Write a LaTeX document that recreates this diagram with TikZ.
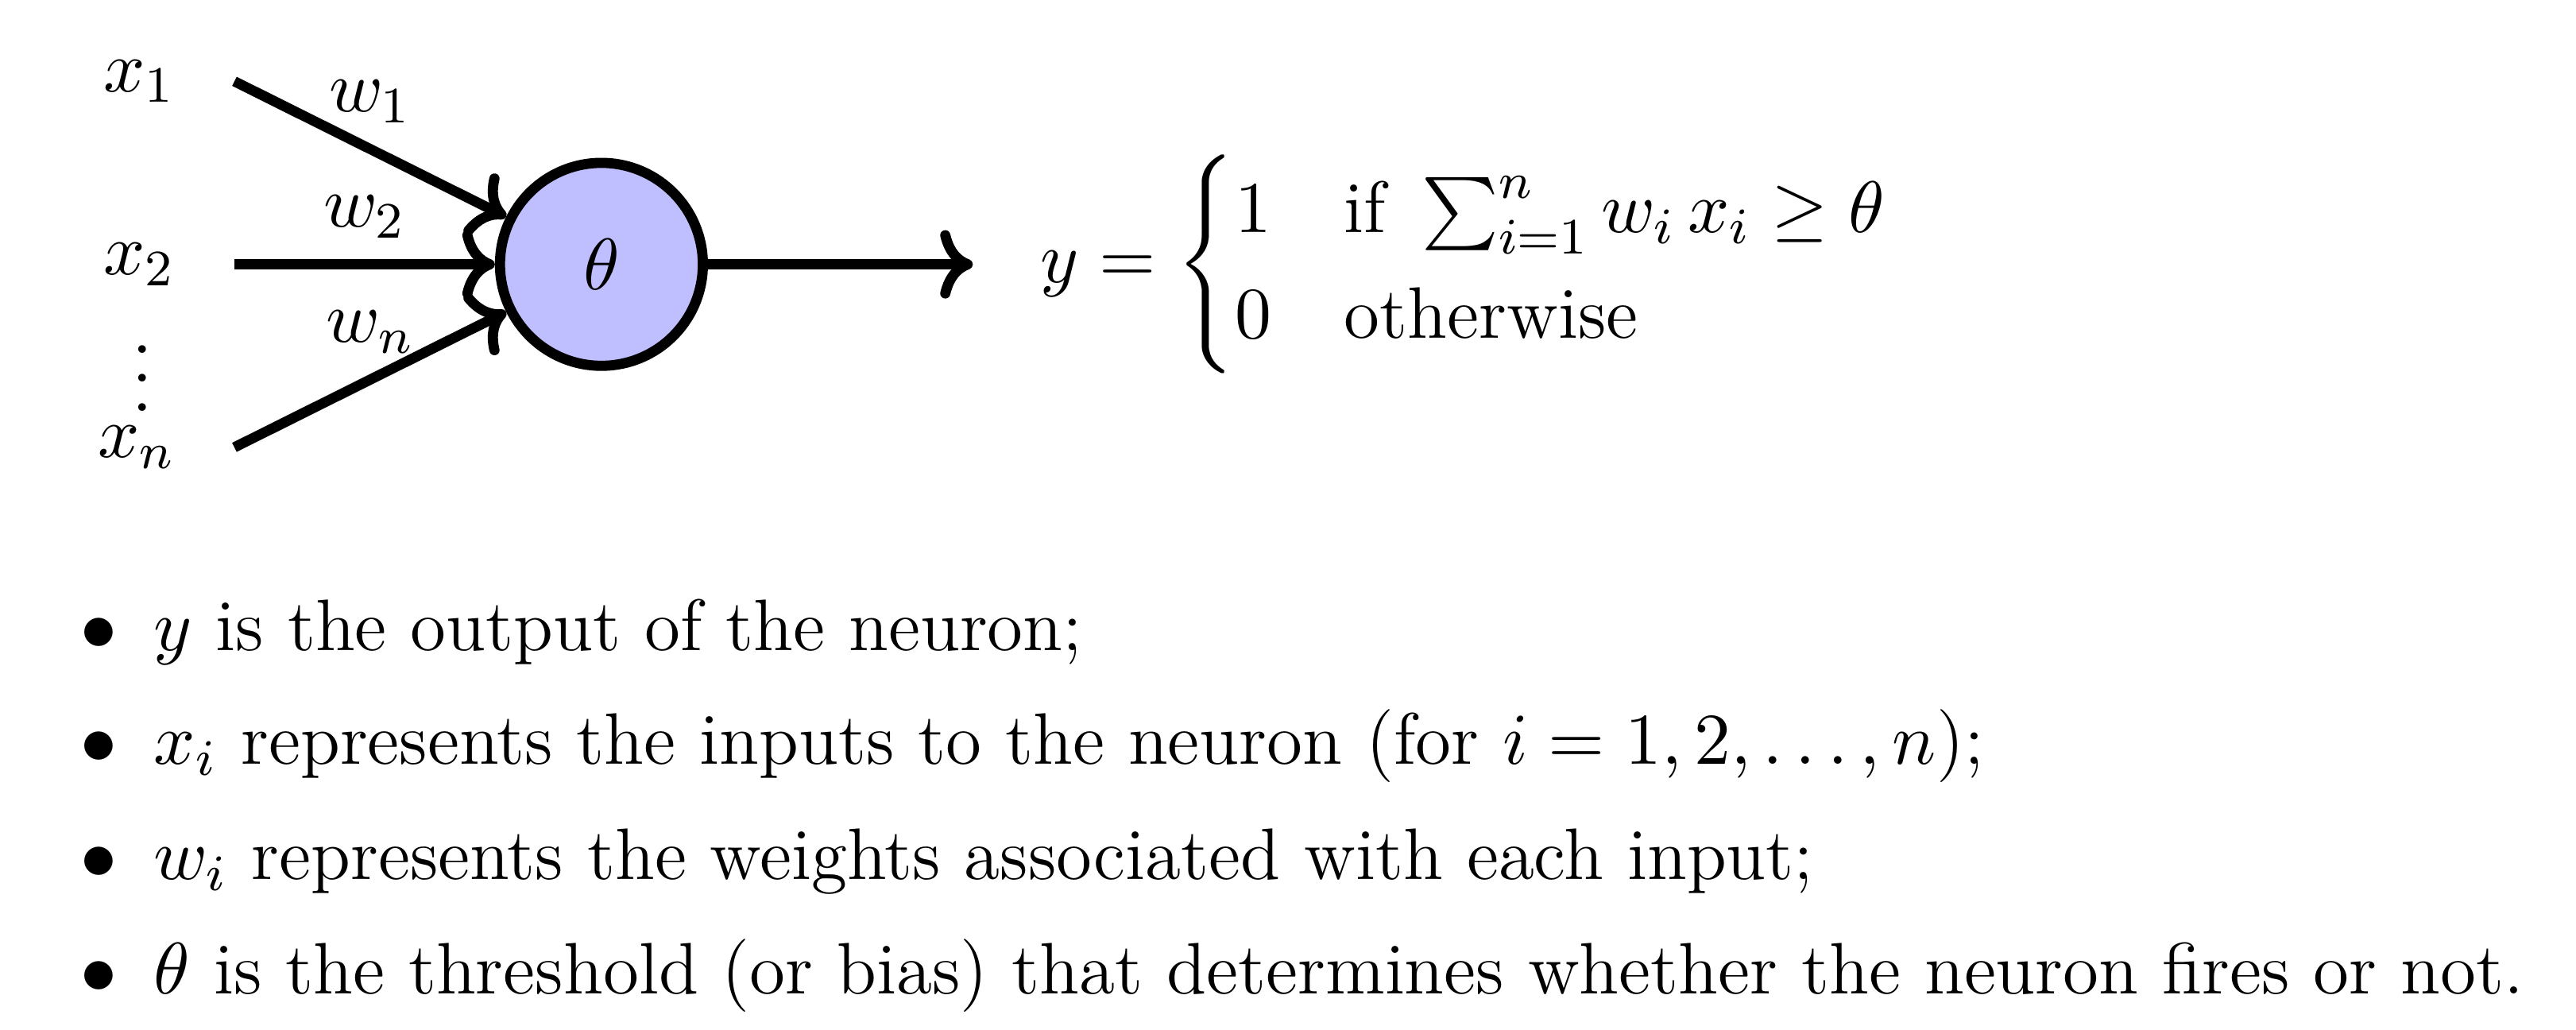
\RequirePackage{fix-cm}
\documentclass[tikz,border=0pt]{standalone}
\usepackage{amsmath}
\usepackage{amssymb}
\usepackage{xcolor}
\usepackage{tikz}
\usetikzlibrary{arrows.meta,positioning}

\begin{document}
\begin{tikzpicture}[font=\fontsize{11.45}{13.8}\selectfont,
    neuron/.style={circle, draw, ultra thick, fill=blue!25, minimum size=1.12cm, inner sep=0pt},
    wire/.style={->, ultra thick},
    itm/.style={anchor=base west, inner sep=0pt}]
  \useasboundingbox (0,0) rectangle (14.22,5.684);

  % Neuron and inputs
  \node[neuron] (theta) at (3.32,4.225) {$\theta$};
  \coordinate (in1) at (1.294,5.235);
  \coordinate (in2) at (1.294,4.225);
  \coordinate (inn) at (1.294,3.215);
  \coordinate (out) at (5.37,4.225);

  \node[left=2mm of in1] (lx1) {$x_1$};
  \node[left=2mm of in2] (lx2) {$x_2$};
  \node[left=2mm of inn] (lxn) {$x_n$};
  \node[font=\fontsize{10}{12}\selectfont, scale=1.145] (vd) at (0.785,3.717) {$\vdots$};

  \draw[wire] (in1) -- node[above] (w1) {$w_1$} (theta);
  \draw[wire] (in2) -- node[above] (w2) {$w_2$} (theta);
  \draw[wire] (inn) -- node[above] (wn) {$w_n$} (theta);
  \draw[wire] (theta) -- (out);

  % Output rule
  \node[right=2.5mm of out] (rule) {\delimiterfactor=1000 \delimitershortfall=0pt
    $y = \begin{cases}
      1 & \text{if } \sum_{i=1}^{n} w_i \, x_i \geq \theta \\
      0 & \text{otherwise}
    \end{cases}$};

  % Notes
  \node[itm] (b1) at (0.44,2.092) {$\bullet$\hspace{0.5em}$y$ is the output of the neuron;};
  \node[itm] (b2) at (0.44,1.466) {$\bullet$\hspace{0.5em}$x_i$ represents the inputs to the neuron (for $i = 1, 2, \ldots, n$);};
  \node[itm] (b3) at (0.44,0.830) {$\bullet$\hspace{0.5em}$w_i$ represents the weights associated with each input;};
  \node[itm] (b4) at (0.44,0.199) {$\bullet$\hspace{0.5em}$\theta$ is the threshold (or bias) that determines whether the neuron fires or not.};
\end{tikzpicture}
\end{document}
